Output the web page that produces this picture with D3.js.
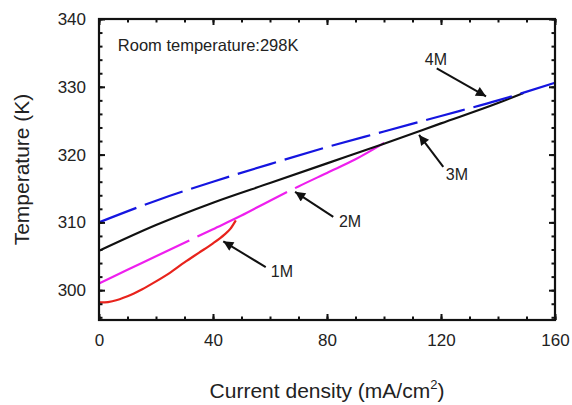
<!DOCTYPE html>
<html lang="en">
<head>
    <meta charset="UTF-8">
    <title>Temperature vs current density</title>
    <script src="https://cdn.jsdelivr.net/npm/d3@7"></script>
    <style>
        body { margin: 0; background: #fff; }
        svg text { font-family: "Liberation Sans", Arial, Helvetica, sans-serif; fill: #222; }
    </style>
</head>
<body>
<svg id="chart" width="572" height="405"></svg>
<script>
"use strict";

// values
var x1M = [0, 2, 5, 10, 15, 20, 25, 30, 35, 40, 44, 46, 48];
var t1M = [298.2, 298.2, 298.4, 299.1, 300.1, 301.3, 302.6, 304.1, 305.5, 306.9, 308.2, 309.0, 310.3];

var x2M = [0, 10, 20, 30, 40, 50, 60, 70, 80, 90, 100, 102];
var t2M = [301.0, 303.0, 305.0, 307.0, 309.0, 311.0, 313.2, 315.3, 317.3, 319.3, 321.7, 322.2];

var x3M = [0, 20, 40, 60, 80, 100, 120, 140, 149];
var t3M = [305.8, 309.6, 312.9, 315.8, 318.7, 321.6, 324.6, 327.6, 329.1];

var x4M = [0, 20, 40, 60, 80, 100, 120, 140, 160];
var t4M = [310.0, 313.2, 316.0, 318.6, 321.1, 323.4, 325.7, 328.0, 330.6];

var xTicks = [0, 40, 80, 120, 160];
var yTicks = [300, 310, 320, 330, 340];

var labels = ["1M", "2M", "3M", "4M"];
// arrow: label position, arrow start, arrow tip (in data units)
var labelAt = [[64.2, 302.8], [88.1, 310.2], [125.6, 317.1], [118.2, 334.0]];
var arrowFrom = [[58.5, 303.4], [82.2, 310.8], [120.8, 318.2], [118.5, 332.7]];
var arrowTo = [[43.6, 307.2], [68.8, 314.5], [112.3, 322.9], [135.8, 328.6]];

var margin = {top: 19, right: 17, bottom: 85, left: 99};
var width = 572 - margin.left - margin.right;
var height = 405 - margin.top - margin.bottom;

var svg = d3.select("#chart");
var g = svg.append("g").attr("transform", "translate(" + margin.left + "," + margin.top + ")");

var x = d3.scaleLinear().domain([0, 160]).range([0, width]);
var y = d3.scaleLinear().domain([295.6, 340]).range([height, 0]);

var series = [
    {x: x1M, t: t1M, color: "#e8231c", dash: null},
    {x: x2M, t: t2M, color: "#ee1fee", dash: "100 9"},
    {x: x3M, t: t3M, color: "#111", dash: null},
    {x: x4M, t: t4M, color: "#1515e0", dash: "40 9"}
];

var line = d3.line()
    .x(function (d) { return x(d[0]); })
    .y(function (d) { return y(d[1]); })
    .curve(d3.curveMonotoneX);

g.selectAll(".curve")
    .data(series)
    .enter().append("path")
    .attr("class", "curve")
    .attr("fill", "none")
    .attr("stroke", function (d) { return d.color; })
    .attr("stroke-width", 2.2)
    .attr("stroke-dasharray", function (d) { return d.dash; })
    .attr("d", function (d) { return line(d3.zip(d.x, d.t)); });

// axes, ticks pointing inward on all four sides
var minorX = d3.range(0, 161, 10);
var minorY = d3.range(296, 341, 2);

function styleAxis(sel) {
    sel.select(".domain").remove();
    sel.selectAll("line").attr("stroke", "#111").attr("stroke-width", 2);
    sel.selectAll("text").attr("font-size", 17).attr("fill", "#222");
}

g.append("g").attr("transform", "translate(0," + height + ")")
    .call(d3.axisBottom(x).tickValues(minorX).tickSize(-3.5).tickFormat(""))
    .call(styleAxis);
g.append("g").attr("transform", "translate(0," + height + ")")
    .call(d3.axisBottom(x).tickValues(xTicks).tickSize(-6).tickPadding(14).tickFormat(d3.format("d")))
    .call(styleAxis);
g.append("g")
    .call(d3.axisTop(x).tickValues(minorX).tickSize(-3.5).tickFormat(""))
    .call(styleAxis);
g.append("g")
    .call(d3.axisTop(x).tickValues(xTicks).tickSize(-6).tickFormat(""))
    .call(styleAxis);

g.append("g")
    .call(d3.axisLeft(y).tickValues(minorY).tickSize(-3.5).tickFormat(""))
    .call(styleAxis);
g.append("g")
    .call(d3.axisLeft(y).tickValues(yTicks).tickSize(-6).tickPadding(13).tickFormat(d3.format("d")))
    .call(styleAxis);
g.append("g").attr("transform", "translate(" + width + ",0)")
    .call(d3.axisRight(y).tickValues(minorY).tickSize(-3.5).tickFormat(""))
    .call(styleAxis);
g.append("g").attr("transform", "translate(" + width + ",0)")
    .call(d3.axisRight(y).tickValues(yTicks).tickSize(-6).tickFormat(""))
    .call(styleAxis);

g.append("rect")
    .attr("width", width).attr("height", height)
    .attr("fill", "none").attr("stroke", "#111").attr("stroke-width", 2.2);

// arrows
svg.append("defs").append("marker")
    .attr("id", "head")
    .attr("viewBox", "0 0 10 10")
    .attr("refX", 10).attr("refY", 5)
    .attr("markerWidth", 6.5).attr("markerHeight", 5)
    .attr("markerUnits", "strokeWidth")
    .attr("orient", "auto")
    .append("path").attr("d", "M0,0 L10,5 L0,10 Z").attr("fill", "#111");

g.selectAll(".arrow")
    .data(d3.range(labels.length))
    .enter().append("line")
    .attr("class", "arrow")
    .attr("x1", function (i) { return x(arrowFrom[i][0]); })
    .attr("y1", function (i) { return y(arrowFrom[i][1]); })
    .attr("x2", function (i) { return x(arrowTo[i][0]); })
    .attr("y2", function (i) { return y(arrowTo[i][1]); })
    .attr("stroke", "#111").attr("stroke-width", 2)
    .attr("marker-end", "url(#head)");

g.selectAll(".lab")
    .data(d3.range(labels.length))
    .enter().append("text")
    .attr("class", "lab")
    .attr("x", function (i) { return x(labelAt[i][0]); })
    .attr("y", function (i) { return y(labelAt[i][1]); })
    .attr("text-anchor", "middle")
    .attr("dy", "0.35em")
    .attr("font-size", 16)
    .text(function (d, i) { return labels[i]; });

g.append("text")
    .attr("x", x(6.6)).attr("y", y(335.3))
    .attr("font-size", 16.5)
    .text("Room temperature:298K");

// axis titles
var xt = svg.append("text")
    .attr("x", margin.left + width / 2).attr("y", 398)
    .attr("text-anchor", "middle")
    .attr("font-size", 21);
xt.append("tspan").text("Current density (mA/cm");
xt.append("tspan").attr("font-size", 13).attr("dy", -9).text("2");
xt.append("tspan").attr("dy", 9).text(")");

svg.append("text")
    .attr("transform", "translate(29," + (margin.top + height / 2) + ") rotate(-90)")
    .attr("text-anchor", "middle")
    .attr("font-size", 21)
    .text("Temperature (K)");
</script>
</body>
</html>
